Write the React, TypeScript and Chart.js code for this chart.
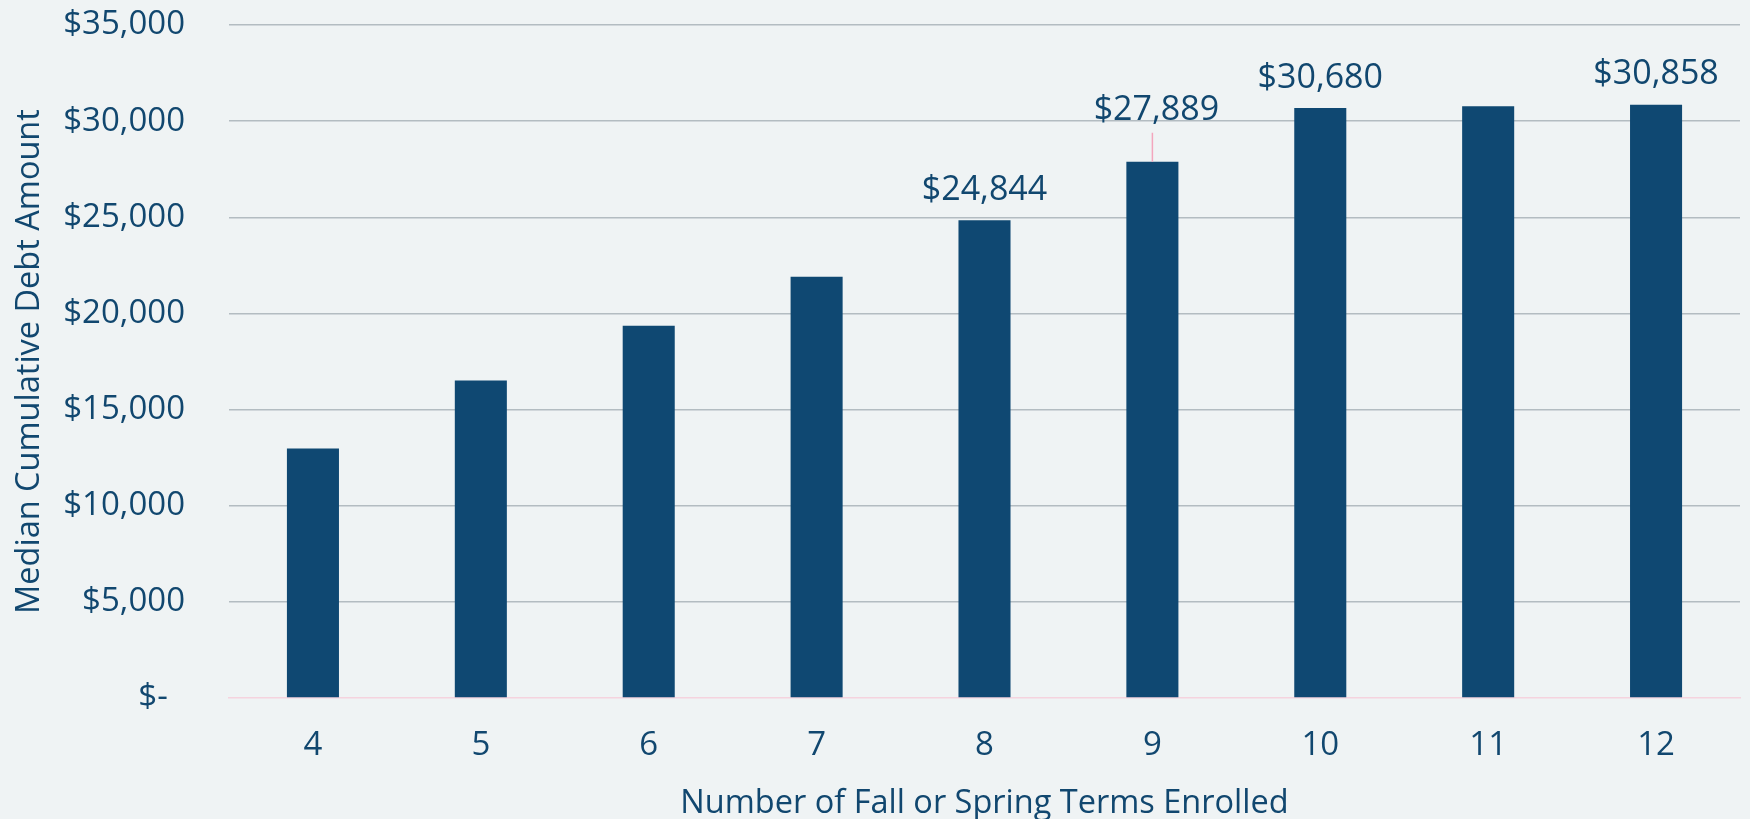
import React, { useEffect, useRef } from "react";
import { Chart, registerables } from "chart.js";

Chart.register(...registerables);

const categories = ["4", "5", "6", "7", "8", "9", "10", "11", "12"];
const debtValues = [12970, 16510, 19360, 21910, 24844, 27889, 30680, 30770, 30858];
const labeledIndices = [4, 5, 6, 8];
const yTickValues = [0, 5000, 10000, 15000, 20000, 25000, 30000, 35000];

const FONT = "'Open Sans', sans-serif";
const TEXT = "#11476f";
const BAR = "#0f4872";
const BG = "#eff3f4";

const fmt = (v: number) => (v === 0 ? "$-  " : "$" + v.toLocaleString("en-US"));

const labelPlugin = {
  id: "barLabels",
  afterDatasetsDraw(chart: any) {
    const ctx = chart.ctx;
    const meta = chart.getDatasetMeta(0);
    ctx.save();
    ctx.font = `34px ${FONT}`;
    ctx.fillStyle = TEXT;
    ctx.textAlign = "center";
    ctx.textBaseline = "middle";
    labeledIndices.forEach((i) => {
      const el = meta.data[i];
      const v = debtValues[i];
      const lifted = i === 5;
      const off = lifted ? 51 : 30;
      if (lifted) {
        ctx.strokeStyle = "#f3a6bd";
        ctx.lineWidth = 1.5;
        ctx.beginPath();
        ctx.moveTo(el.x, el.y);
        ctx.lineTo(el.x, el.y - 29);
        ctx.stroke();
      }
      ctx.fillText(fmt(v), el.x + (lifted ? 4 : 0), el.y - off);
    });
    ctx.restore();
  },
};

export default function App() {
  const ref = useRef<HTMLCanvasElement>(null);
  useEffect(() => {
    document.body.style.margin = "0";
    document.body.style.background = BG;
    const chart = new Chart(ref.current!, {
      type: "bar",
      data: {
        labels: categories,
        datasets: [
          {
            data: debtValues,
            backgroundColor: BAR,
            barPercentage: 0.62,
            categoryPercentage: 0.5,
          },
        ],
      },
      options: {
        animation: false,
        responsive: false,
        layout: { padding: { top: 25, right: 10, left: 0, bottom: 0 } },
        plugins: { legend: { display: false }, tooltip: { enabled: false } },
        scales: {
          x: {
            grid: { display: false },
            border: { display: true, color: "#f5d3de", width: 1.5 },
            ticks: { color: TEXT, font: { family: FONT, size: 33 }, padding: 20 },
            title: {
              display: true,
              text: "Number of Fall or Spring Terms Enrolled",
              color: TEXT,
              font: { family: FONT, size: 32.5, lineHeight: 0.92 },
              padding: { top: 0, bottom: 0 },
            },
            afterFit: (s: any) => {
              s.height = 121;
            },
          },
          y: {
            min: 0,
            max: 35000,
            afterBuildTicks: (s: any) => {
              s.ticks = yTickValues.map((v) => ({ value: v }));
            },
            grid: {
              color: (c: any) => (c.tick && c.tick.value === 0 ? "rgba(0,0,0,0)" : "#b3bcc1"),
              lineWidth: 1.5,
              drawTicks: true,
              tickLength: 44,
              tickColor: "rgba(0,0,0,0)",
            },
            border: { display: false },
            ticks: {
              color: TEXT,
              font: { family: FONT, size: 33 },
              padding: 0,
              callback: (v: any) => fmt(Number(v)),
            },
            title: {
              display: true,
              text: "Median Cumulative Debt Amount",
              color: TEXT,
              font: { family: FONT, size: 32.5 },
              padding: { top: 10, bottom: 0 },
            },
            afterFit: (s: any) => {
              s.width = 229;
            },
          },
        },
      },
      plugins: [labelPlugin],
    });
    return () => chart.destroy();
  }, []);
  return (
    <div style={{ width: 1750, height: 819, background: BG }}>
      <canvas ref={ref} width={1750} height={819} style={{ display: "block" }} />
    </div>
  );
}
